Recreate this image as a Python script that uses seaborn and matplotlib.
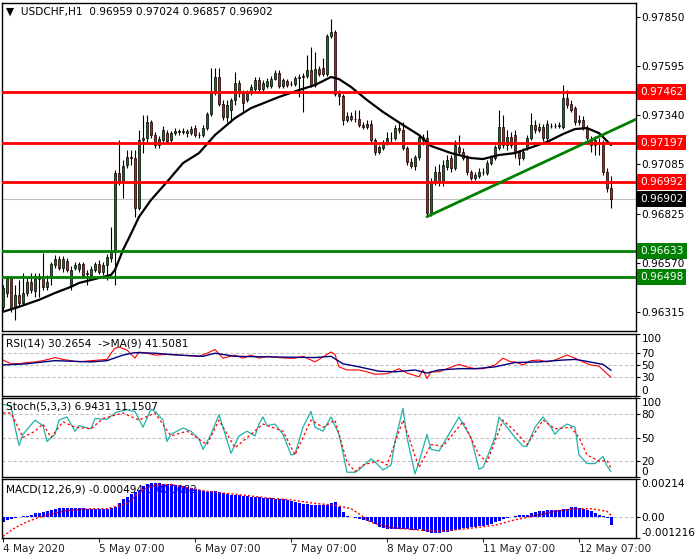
import matplotlib
matplotlib.use("Agg")
import matplotlib.pyplot as plt
import matplotlib.transforms as mtransforms
import numpy as np
import seaborn as sns

sns.set_style("white")
plt.rcParams["font.family"] = ["DejaVu Sans"]

# ---- USDCHF H1 candles (bar 0 = 4 May 07:00) ----
opens = [
    0.96342, 0.96414, 0.96492, 0.96336, 0.96404, 0.96362, 0.96414, 0.96472, 0.96425, 0.96487,
    0.96492, 0.96446, 0.96492, 0.96560, 0.96591, 0.96544, 0.96581, 0.96451, 0.96544, 0.96539,
    0.96565, 0.96513, 0.96508, 0.96534, 0.96565, 0.96524, 0.96560, 0.96596, 0.96628, 0.97038,
    0.96992, 0.97080, 0.97122, 0.97116, 0.96856, 0.97210, 0.97220, 0.97304, 0.97236, 0.97184,
    0.97210, 0.97246, 0.97210, 0.97246, 0.97257, 0.97252, 0.97257, 0.97246, 0.97272, 0.97236,
    0.97236, 0.97272, 0.97345, 0.97454, 0.97538, 0.97397, 0.97330, 0.97366, 0.97418, 0.97506,
    0.97454, 0.97418, 0.97454, 0.97475, 0.97522, 0.97475, 0.97491, 0.97491, 0.97527, 0.97558,
    0.97491, 0.97517, 0.97501, 0.97501, 0.97532, 0.97538, 0.97543, 0.97574, 0.97496, 0.97579,
    0.97584, 0.97553, 0.97751, 0.97772, 0.97449, 0.97439, 0.97314, 0.97335, 0.97319, 0.97319,
    0.97288, 0.97278, 0.97293, 0.97210, 0.97148, 0.97168, 0.97194, 0.97220, 0.97218, 0.97272,
    0.97262, 0.97168, 0.97096, 0.97075, 0.97122, 0.97226, 0.97220, 0.96830, 0.96992, 0.97044,
    0.96992, 0.97070, 0.97116, 0.97064, 0.97174, 0.97148, 0.97116, 0.97044, 0.97012, 0.97023,
    0.97044, 0.97038, 0.97090, 0.97116, 0.97168, 0.97278, 0.97184, 0.97226, 0.97236, 0.97148,
    0.97116, 0.97168, 0.97220, 0.97288, 0.97262, 0.97278, 0.97220, 0.97283, 0.97281, 0.97285,
    0.97278, 0.97428, 0.97397, 0.97376, 0.97304, 0.97314, 0.97272, 0.97210, 0.97210, 0.97200,
    0.97200, 0.97044, 0.96959,
]
highs = [
    0.96456, 0.96503, 0.96503, 0.96456, 0.96482, 0.96518, 0.96492, 0.96518, 0.96518, 0.96518,
    0.96622, 0.96508, 0.96576, 0.96612, 0.96607, 0.96607, 0.96596, 0.96555, 0.96576, 0.96576,
    0.96576, 0.96534, 0.96555, 0.96576, 0.96586, 0.96576, 0.96617, 0.96758, 0.97054, 0.97210,
    0.97106, 0.97158, 0.97158, 0.97158, 0.97262, 0.97340, 0.97340, 0.97314, 0.97252, 0.97231,
    0.97283, 0.97262, 0.97257, 0.97272, 0.97267, 0.97272, 0.97267, 0.97283, 0.97288, 0.97252,
    0.97288, 0.97356, 0.97584, 0.97584, 0.97584, 0.97418, 0.97418, 0.97428, 0.97564, 0.97522,
    0.97470, 0.97470, 0.97501, 0.97538, 0.97538, 0.97522, 0.97532, 0.97543, 0.97574, 0.97574,
    0.97532, 0.97527, 0.97517, 0.97543, 0.97553, 0.97558, 0.97652, 0.97694, 0.97668, 0.97595,
    0.97636, 0.97761, 0.97839, 0.97782, 0.97470, 0.97449, 0.97356, 0.97356, 0.97366, 0.97366,
    0.97304, 0.97314, 0.97314, 0.97220, 0.97184, 0.97210, 0.97252, 0.97252, 0.97288, 0.97298,
    0.97304, 0.97179, 0.97116, 0.97132, 0.97236, 0.97241, 0.97262, 0.97012, 0.97075, 0.97085,
    0.97106, 0.97132, 0.97132, 0.97210, 0.97236, 0.97168, 0.97132, 0.97054, 0.97044, 0.97064,
    0.97064, 0.97106, 0.97132, 0.97184, 0.97366, 0.97340, 0.97262, 0.97252, 0.97262, 0.97158,
    0.97168, 0.97236, 0.97350, 0.97314, 0.97298, 0.97293, 0.97314, 0.97298, 0.97298, 0.97304,
    0.97496, 0.97470, 0.97418, 0.97387, 0.97340, 0.97335, 0.97288, 0.97231, 0.97231, 0.97220,
    0.97210, 0.97064, 0.97024,
]
lows = [
    0.96326, 0.96394, 0.96316, 0.96274, 0.96347, 0.96352, 0.96399, 0.96414, 0.96394, 0.96394,
    0.96430, 0.96430, 0.96456, 0.96544, 0.96534, 0.96524, 0.96524, 0.96430, 0.96534, 0.96524,
    0.96498, 0.96456, 0.96498, 0.96524, 0.96513, 0.96508, 0.96482, 0.96576, 0.96456, 0.96976,
    0.96908, 0.97064, 0.97080, 0.96810, 0.96846, 0.97142, 0.97200, 0.97220, 0.97168, 0.97168,
    0.97200, 0.97194, 0.97200, 0.97236, 0.97236, 0.97241, 0.97226, 0.97236, 0.97226, 0.97220,
    0.97226, 0.97262, 0.97335, 0.97444, 0.97387, 0.97314, 0.97304, 0.97304, 0.97392, 0.97434,
    0.97356, 0.97408, 0.97444, 0.97460, 0.97465, 0.97465, 0.97480, 0.97480, 0.97522, 0.97480,
    0.97480, 0.97486, 0.97491, 0.97491, 0.97434, 0.97356, 0.97532, 0.97486, 0.97486, 0.97543,
    0.97543, 0.97543, 0.97740, 0.97439, 0.97392, 0.97288, 0.97304, 0.97309, 0.97304, 0.97278,
    0.97267, 0.97267, 0.97200, 0.97132, 0.97137, 0.97158, 0.97184, 0.97200, 0.97210, 0.97246,
    0.97158, 0.97080, 0.97064, 0.97054, 0.97106, 0.97184, 0.96810, 0.96815, 0.96976, 0.96971,
    0.96971, 0.97054, 0.97044, 0.97054, 0.97132, 0.97106, 0.97028, 0.97002, 0.97002, 0.97012,
    0.97028, 0.97028, 0.97080, 0.97106, 0.97158, 0.97168, 0.97158, 0.97168, 0.97116, 0.97080,
    0.97106, 0.97158, 0.97210, 0.97246, 0.97252, 0.97205, 0.97210, 0.97272, 0.97272, 0.97272,
    0.97267, 0.97376, 0.97356, 0.97288, 0.97288, 0.97262, 0.97210, 0.97148, 0.97132, 0.97132,
    0.97028, 0.96940, 0.96857,
]
closes = [
    0.96440, 0.96492, 0.96336, 0.96404, 0.96362, 0.96414, 0.96472, 0.96430, 0.96487, 0.96492,
    0.96446, 0.96472, 0.96565, 0.96591, 0.96544, 0.96591, 0.96534, 0.96534, 0.96560, 0.96565,
    0.96508, 0.96518, 0.96539, 0.96565, 0.96524, 0.96560, 0.96602, 0.96628, 0.97038, 0.96992,
    0.97075, 0.97122, 0.97116, 0.96856, 0.97210, 0.97220, 0.97304, 0.97236, 0.97184, 0.97215,
    0.97262, 0.97205, 0.97246, 0.97257, 0.97252, 0.97257, 0.97246, 0.97267, 0.97236, 0.97234,
    0.97272, 0.97345, 0.97454, 0.97538, 0.97397, 0.97330, 0.97392, 0.97418, 0.97506, 0.97454,
    0.97402, 0.97454, 0.97486, 0.97522, 0.97475, 0.97506, 0.97517, 0.97527, 0.97558, 0.97491,
    0.97522, 0.97496, 0.97499, 0.97532, 0.97538, 0.97543, 0.97574, 0.97496, 0.97579, 0.97553,
    0.97553, 0.97751, 0.97772, 0.97449, 0.97439, 0.97314, 0.97335, 0.97319, 0.97317, 0.97288,
    0.97278, 0.97293, 0.97210, 0.97148, 0.97174, 0.97194, 0.97220, 0.97218, 0.97272, 0.97262,
    0.97168, 0.97096, 0.97075, 0.97122, 0.97226, 0.97210, 0.96830, 0.96992, 0.97044, 0.96992,
    0.97080, 0.97106, 0.97064, 0.97184, 0.97148, 0.97116, 0.97044, 0.97012, 0.97028, 0.97044,
    0.97042, 0.97090, 0.97122, 0.97174, 0.97278, 0.97184, 0.97226, 0.97184, 0.97148, 0.97116,
    0.97148, 0.97220, 0.97288, 0.97262, 0.97278, 0.97220, 0.97293, 0.97281, 0.97285, 0.97288,
    0.97428, 0.97392, 0.97366, 0.97304, 0.97314, 0.97278, 0.97220, 0.97184, 0.97184, 0.97198,
    0.97044, 0.96960, 0.96902,
]

# moving average drawn on the price chart (bar index, price)
ma_idx = [0, 4, 9, 13, 17, 19, 24, 27, 28, 30, 32, 34, 37, 41, 45, 49, 53, 58, 62, 69,
          74, 78, 82, 84, 87, 91, 95, 100, 104, 107, 112, 117, 120, 124, 128, 136, 140, 143, 146, 149, 152]
ma_val = [0.96316, 0.96342, 0.96378, 0.96414, 0.96446, 0.96466, 0.96492, 0.96508, 0.96534, 0.96638,
          0.96722, 0.96810, 0.96898, 0.96992, 0.97090, 0.97142, 0.97236, 0.97324, 0.97376, 0.97434,
          0.97470, 0.97496, 0.97538, 0.97527, 0.97486, 0.97418, 0.97356, 0.97288, 0.97236, 0.97179,
          0.97142, 0.97116, 0.97111, 0.97132, 0.97142, 0.97200, 0.97241, 0.97267, 0.97272, 0.97246, 0.97184]

red_levels = [0.97462, 0.97197, 0.96992]
green_levels = [0.96633, 0.96498]
last_price = 0.96902
trend_idx = [106, 158.25]
trend_val = [0.96811, 0.97318]
price_ticks = [0.96315, 0.96570, 0.96825, 0.97085, 0.97340, 0.97595, 0.97850]

# RSI(14) and its MA(9)
rsi_idx = [0, 2, 4, 6, 8, 10, 13, 15, 17, 19, 22, 24, 26, 27, 28, 29, 31, 33, 34, 36,
           38, 41, 44, 49, 51, 53, 55, 58, 60, 62, 64, 66, 69, 71, 73, 75, 78, 80, 82, 83,
           84, 86, 89, 91, 93, 96, 98, 99, 101, 104, 105, 106, 107, 109, 111, 114, 116, 118, 120, 123,
           125, 127, 128, 130, 132, 134, 136, 138, 141, 143, 145, 147, 149, 151, 152]
rsi_val = [58, 52, 52, 54, 55, 57, 62, 59, 57, 55, 57, 58, 59, 69, 77, 79, 74, 61, 71, 69,
           66, 67, 66, 64, 69, 75, 61, 66, 61, 66, 61, 64, 62, 61, 61, 64, 55, 63, 71, 67,
           47, 42, 42, 39, 35, 36, 41, 44, 37, 31, 42, 28, 39, 39, 44, 51, 47, 44, 44, 50,
           61, 55, 55, 50, 57, 58, 55, 58, 66, 61, 55, 50, 48, 36, 30.2654]
rsi_ma_idx = [0, 6, 13, 22, 26, 30, 33, 38, 44, 50, 53, 58, 67, 78, 82, 85, 89, 94, 98, 103,
              106, 109, 114, 118, 123, 128, 134, 140, 143, 145, 150, 152]
rsi_ma_val = [50, 52, 57, 55, 57, 66, 70, 69, 66, 64, 69, 64, 63, 62, 64, 52, 47, 40, 39, 42,
              37, 42, 44, 44, 47, 54, 55, 58, 59, 57, 51, 41.5081]

# Stochastic(5,3,3)
stoch_idx = [0, 2, 3, 4, 5, 8, 10, 11, 13, 14, 16, 17, 18, 19, 22, 23, 26, 28, 29, 31,
             33, 35, 37, 38, 40, 41, 42, 45, 47, 49, 50, 52, 54, 55, 57, 59, 61, 63, 64, 65,
             66, 68, 70, 72, 73, 75, 77, 78, 80, 82, 84, 86, 88, 89, 92, 93, 95, 97, 98, 100,
             101, 103, 104, 106, 107, 109, 111, 114, 115, 117, 119, 120, 123, 124, 126, 128, 130, 131, 133, 135,
             137, 138, 139, 141, 143, 144, 146, 148, 150, 151, 152]
stoch_val = [92, 90, 63, 40, 54, 72, 65, 45, 54, 72, 76, 67, 58, 65, 61, 74, 73, 81, 83, 85,
             83, 63, 86, 83, 72, 45, 54, 62, 58, 48, 35, 54, 79, 63, 30, 52, 58, 52, 67, 76,
             65, 67, 54, 28, 29, 63, 83, 63, 58, 76, 54, 6, 6, 9, 23, 19, 9, 15, 45, 87,
             50, 4, 19, 54, 35, 33, 50, 76, 67, 50, 10, 12, 50, 76, 63, 50, 39, 39, 63, 76,
             63, 54, 60, 67, 63, 28, 17, 17, 26, 14, 6.9431]
stoch_sig_idx = [0, 2, 5, 8, 10, 12, 15, 18, 22, 25, 30, 34, 38, 42, 46, 51, 54, 58, 62, 65,
                 70, 73, 77, 80, 83, 86, 88, 90, 94, 96, 100, 104, 107, 110, 115, 119, 121, 125, 128, 131,
                 135, 138, 142, 144, 146, 149, 151, 152]
stoch_sig_val = [81, 81, 50, 58, 67, 50, 70, 63, 61, 74, 81, 72, 81, 52, 58, 41, 72, 37, 54, 67,
                 58, 28, 72, 63, 72, 19, 7, 15, 21, 15, 72, 12, 41, 39, 70, 28, 19, 72, 58, 41,
                 72, 61, 63, 50, 28, 20, 21, 11.1507]

# MACD(12,26,9), values in units of 1e-5
macd_hist_e5 = [
    -33, -20, -14, -10, -4, 2, 6, 12, 20, 22,
    26, 30, 37, 43, 49, 51, 51, 51, 51, 51,
    49, 45, 45, 45, 45, 45, 45, 49, 53, 75,
    99, 114, 128, 140, 154, 173, 187, 193, 193, 191,
    187, 185, 183, 179, 177, 173, 169, 164, 158, 152,
    144, 140, 144, 144, 140, 134, 128, 124, 124, 122,
    120, 118, 114, 112, 110, 108, 106, 104, 102, 100,
    99, 95, 91, 85, 77, 73, 69, 67, 65, 65,
    65, 67, 77, 85, 55, 26, 6, -4, -10, -14,
    -20, -26, -33, -43, -57, -67, -73, -73, -73, -71,
    -69, -73, -77, -75, -73, -79, -89, -93, -93, -93,
    -89, -85, -81, -77, -73, -67, -63, -61, -57, -55,
    -53, -49, -43, -33, -24, -16, -10, -4, 6, 10,
    10, 12, 20, 26, 30, 33, 35, 35, 35, 37,
    41, 45, 53, 55, 49, 45, 37, 30, 22, 10,
    2, -10, -49.4,
]
macd_sig_idx = [0, 3, 6, 9, 13, 16, 22, 26, 31, 33, 35, 38, 42, 46, 51, 55, 61, 67, 72, 78,
                83, 87, 89, 92, 97, 100, 106, 109, 114, 118, 123, 128, 134, 138, 143, 147, 151, 152]
macd_sig_e5 = [-112, -63, -30, -4, 20, 35, 45, 45, 75, 114, 154, 179, 183, 164, 144, 134, 120, 104, 95, 75,
               65, 45, 16, -33, -63, -69, -79, -83, -73, -63, -49, -18, 10, 30, 45, 45, 30, 8.2]

date_ticks = [0, 24, 48, 72, 96, 120, 144]
date_labels = ["4 May 2020", "5 May 07:00", "6 May 07:00", "7 May 07:00",
               "8 May 07:00", "11 May 07:00", "12 May 07:00"]

FS = 7.6
W, H = 700, 560
fig = plt.figure(figsize=(7, 5.6), dpi=100)


def panel(top, bottom, left=2, right=636):
    ax = fig.add_axes([left / W, 1 - bottom / H, (right - left) / W, (bottom - top) / H])
    for s in ax.spines.values():
        s.set_color("black")
        s.set_linewidth(1)
    ax.set_xlim(-0.25, 158.25)
    ax.tick_params(axis="x", bottom=False, labelbottom=False)
    ax.yaxis.tick_right()
    ax.tick_params(axis="y", right=True, direction="out", length=3, width=0.8,
                   labelsize=FS, pad=1, colors="black")
    return ax


def level_ticks(ax, ticks, labels):
    ax.set_yticks(ticks)
    ax.set_yticklabels(labels)
    tl = ax.get_yticklabels()
    tl[0].set_va("bottom")
    tl[-1].set_va("top")


# ---- price panel ----
ax = panel(3, 331)
ax.set_ylim(0.96216, 0.97923)
idx = np.arange(len(closes))
o, h, l, c = (np.array(v) for v in (opens, highs, lows, closes))
ax.vlines(idx, l, h, color="black", lw=0.8, zorder=3)
up = c >= o
ax.bar(idx, np.abs(c - o), bottom=np.minimum(o, c), width=0.72,
       color=np.where(up, "#008000", "#ff0000"), edgecolor="black", linewidth=0.5, zorder=4)

ax.axhline(last_price, color="#c0c0c0", lw=0.8, zorder=2)
for lv in red_levels:
    ax.axhline(lv, color="#ff0000", lw=2, zorder=6)
for lv in green_levels:
    ax.axhline(lv, color="#008000", lw=2, zorder=6)
sns.lineplot(x=ma_idx, y=ma_val, ax=ax, color="black", lw=1.6, estimator=None, zorder=5)
sns.lineplot(x=trend_idx, y=trend_val, ax=ax, color="#008000", lw=2, estimator=None, zorder=6)

ax.set_yticks(price_ticks)
ax.set_yticklabels([f"{t:.5f}" for t in price_ticks])
trans = mtransforms.blended_transform_factory(ax.transAxes, ax.transData)
boxes = [(v, "#ff0000") for v in red_levels] + [(v, "#008000") for v in green_levels] + [(last_price, "black")]
for val, col in boxes:
    ax.text(1.0065, val, f"{val:.5f}", transform=trans, ha="left", va="center", fontsize=FS,
            color="white", clip_on=False, zorder=10,
            bbox=dict(boxstyle="square,pad=0.28", fc=col, ec="none"))
ax.text(0.006, 0.988, "\u25bc  USDCHF,H1  0.96959 0.97024 0.96857 0.96902",
        transform=ax.transAxes, ha="left", va="top", fontsize=FS, color="black")

# ---- RSI panel ----
ax_rsi = panel(334, 396)
ax_rsi.set_ylim(0, 100)
for lv in (70, 50, 30):
    ax_rsi.axhline(lv, color="#c0c0c0", lw=0.8, ls=(0, (3, 2)), zorder=1)
sns.lineplot(x=rsi_idx, y=rsi_val, ax=ax_rsi, color="#ff0000", lw=0.8, estimator=None)
sns.lineplot(x=rsi_ma_idx, y=rsi_ma_val, ax=ax_rsi, color="#000080", lw=1.0, estimator=None)
level_ticks(ax_rsi, [0, 30, 50, 70, 100], ["0", "30", "50", "70", "100"])
ax_rsi.text(0.006, 0.93, "RSI(14) 30.2654  ->MA(9) 41.5081", transform=ax_rsi.transAxes,
            ha="left", va="top", fontsize=FS, color="black")

# ---- Stochastic panel ----
ax_st = panel(398, 477)
ax_st.set_ylim(0, 100)
for lv in (80, 50, 20):
    ax_st.axhline(lv, color="#c0c0c0", lw=0.8, ls=(0, (3, 2)), zorder=1)
sns.lineplot(x=stoch_idx, y=stoch_val, ax=ax_st, color="#20b2aa", lw=0.9, estimator=None)
sns.lineplot(x=stoch_sig_idx, y=stoch_sig_val, ax=ax_st, color="#ff0000", lw=0.9,
             linestyle=(0, (2, 2)), estimator=None)
level_ticks(ax_st, [0, 20, 50, 80, 100], ["0", "20", "50", "80", "100"])
ax_st.text(0.006, 0.95, "Stoch(5,3,3) 6.9431 11.1507", transform=ax_st.transAxes,
           ha="left", va="top", fontsize=FS, color="black")

# ---- MACD panel ----
ax_m = panel(479, 538)
ax_m.set_ylim(-0.001216, 0.00214)
ax_m.axhline(0, color="#c0c0c0", lw=0.8, ls=(0, (3, 2)), zorder=1)
ax_m.text(0.006, 0.9, "MACD(12,26,9) -0.000494 0.000082", transform=ax_m.transAxes,
          ha="left", va="top", fontsize=FS, color="black", zorder=1)
ax_m.bar(idx, np.array(macd_hist_e5) * 1e-5, width=0.75, color="#0000ff",
         edgecolor="none", linewidth=0, zorder=2)
sns.lineplot(x=macd_sig_idx, y=np.array(macd_sig_e5) * 1e-5, ax=ax_m, color="#ff0000", lw=1.0,
             linestyle=(0, (1.5, 1.5)), estimator=None, zorder=3)
level_ticks(ax_m, [-0.001216, 0, 0.00214], ["-0.001216", "0.00", "0.00214"])
ax_m.set_xticks(date_ticks)
ax_m.set_xticklabels(date_labels, ha="left")
ax_m.tick_params(axis="x", bottom=True, labelbottom=True, direction="out", length=3,
                 width=0.8, labelsize=FS, pad=1.5)

for a in (ax, ax_rsi, ax_st, ax_m):
    a.set_xlabel("")
    a.set_ylabel("")
    a.grid(False)

fig.savefig("out.png", dpi=100)
